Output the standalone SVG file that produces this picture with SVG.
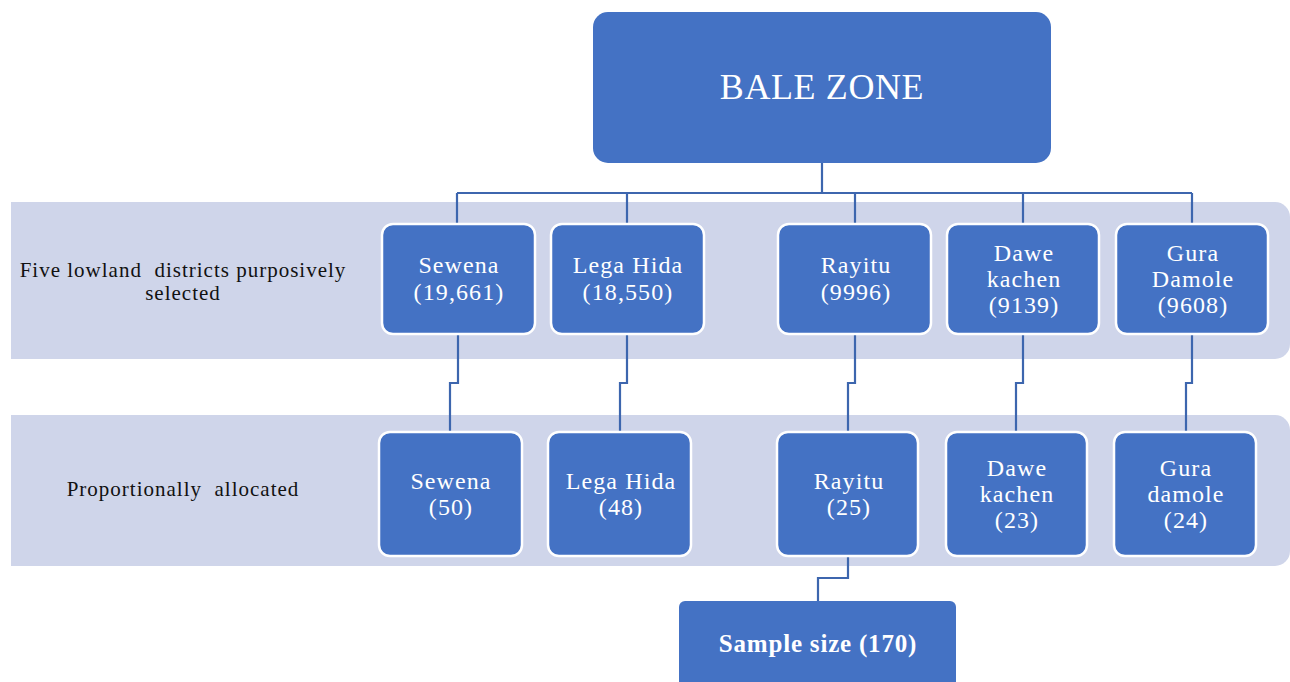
<svg xmlns="http://www.w3.org/2000/svg" width="1290" height="682" viewBox="0 0 1290 682">
  <style>
    .band { fill: #CFD5EA; }
    .box { fill: #4472C4; stroke: #FFFFFF; stroke-width: 2.5; }
    .top { fill: #4472C4; }
    .lbl { font-family: "Liberation Serif", "Times New Roman", serif; fill: #FFFFFF; text-anchor: middle; font-size: 24px; letter-spacing: 1.1px; }
    .side { font-family: "Liberation Serif", "Times New Roman", serif; fill: #111111; text-anchor: middle; font-size: 21px; letter-spacing: 1px; }
    .wire { fill: none; stroke: #3D66AE; stroke-width: 2.2; }
  </style>

  <!-- background bands -->
  <path class="band" d="M11,202 H1275 a15,15 0 0 1 15,15 V344 a15,15 0 0 1 -15,15 H11 Z"/>
  <path class="band" d="M11,415 H1275 a15,15 0 0 1 15,15 V551 a15,15 0 0 1 -15,15 H11 Z"/>

  <text class="side" x="183" y="277" xml:space="preserve">Five lowland  districts purposively</text>
  <text class="side" x="183" y="300">selected</text>
  <text class="side" x="183" y="496" xml:space="preserve">Proportionally  allocated</text>

  <!-- connectors -->
  <g id="connectors">
    <path class="wire" d="M822,163 V193 M457,193 H1192 M457,193 V224 M627,193 V224 M855,193 V224 M1023,193 V224 M1192,193 V224"/>
    <path class="wire" d="M458,334 V383 H450 V432"/>
    <path class="wire" d="M627,334 V383 H620 V432"/>
    <path class="wire" d="M855,334 V383 H848 V432"/>
    <path class="wire" d="M1023,334 V383 H1016 V432"/>
    <path class="wire" d="M1192,334 V383 H1186 V432"/>
    <path class="wire" d="M848,556 V578 H818 V601"/>
  </g>

  <g id="bale-zone">
    <rect class="top" x="593" y="12" width="458" height="151" rx="15"/>
    <text class="lbl" x="822" y="99" style="font-size:36px;letter-spacing:0.6px">BALE ZONE</text>
  </g>

  <!-- districts -->
  <g id="d-sewena">
    <rect class="box" x="382" y="224" width="153" height="110" rx="11"/>
    <text class="lbl" x="459" y="273">Sewena</text>
    <text class="lbl" x="459" y="300">(19,661)</text>
  </g>
  <g id="d-lega-hida">
    <rect class="box" x="551" y="224" width="153" height="110" rx="11"/>
    <text class="lbl" x="628" y="273">Lega Hida</text>
    <text class="lbl" x="628" y="300">(18,550)</text>
  </g>
  <g id="d-rayitu">
    <rect class="box" x="778" y="224" width="153" height="110" rx="11"/>
    <text class="lbl" x="856" y="273">Rayitu</text>
    <text class="lbl" x="856" y="300">(9996)</text>
  </g>
  <g id="d-dawe-kachen">
    <rect class="box" x="947" y="224" width="152" height="110" rx="11"/>
    <text class="lbl" x="1024" y="261">Dawe</text>
    <text class="lbl" x="1024" y="287">kachen</text>
    <text class="lbl" x="1024" y="313">(9139)</text>
  </g>
  <g id="d-gura-damole">
    <rect class="box" x="1116" y="224" width="152" height="110" rx="11"/>
    <text class="lbl" x="1193" y="261">Gura</text>
    <text class="lbl" x="1193" y="287">Damole</text>
    <text class="lbl" x="1193" y="313">(9608)</text>
  </g>

  <!-- allocations -->
  <g id="a-sewena">
    <rect class="box" x="379" y="432" width="143" height="124" rx="11"/>
    <text class="lbl" x="451" y="489">Sewena</text>
    <text class="lbl" x="451" y="515">(50)</text>
  </g>
  <g id="a-lega-hida">
    <rect class="box" x="548" y="432" width="143" height="124" rx="11"/>
    <text class="lbl" x="621" y="489">Lega Hida</text>
    <text class="lbl" x="621" y="515">(48)</text>
  </g>
  <g id="a-rayitu">
    <rect class="box" x="777" y="432" width="141" height="124" rx="11"/>
    <text class="lbl" x="849" y="489">Rayitu</text>
    <text class="lbl" x="849" y="515">(25)</text>
  </g>
  <g id="a-dawe-kachen">
    <rect class="box" x="946" y="432" width="141" height="124" rx="11"/>
    <text class="lbl" x="1017" y="476">Dawe</text>
    <text class="lbl" x="1017" y="502">kachen</text>
    <text class="lbl" x="1017" y="528">(23)</text>
  </g>
  <g id="a-gura-damole">
    <rect class="box" x="1114" y="432" width="142" height="124" rx="11"/>
    <text class="lbl" x="1186" y="476">Gura</text>
    <text class="lbl" x="1186" y="502">damole</text>
    <text class="lbl" x="1186" y="528">(24)</text>
  </g>

  <g id="sample-size">
    <rect class="top" x="679" y="601" width="277" height="95" rx="6"/>
    <text class="lbl" x="818" y="652" style="font-weight:bold;font-size:25px;letter-spacing:0.8px">Sample size (170)</text>
  </g>
</svg>
